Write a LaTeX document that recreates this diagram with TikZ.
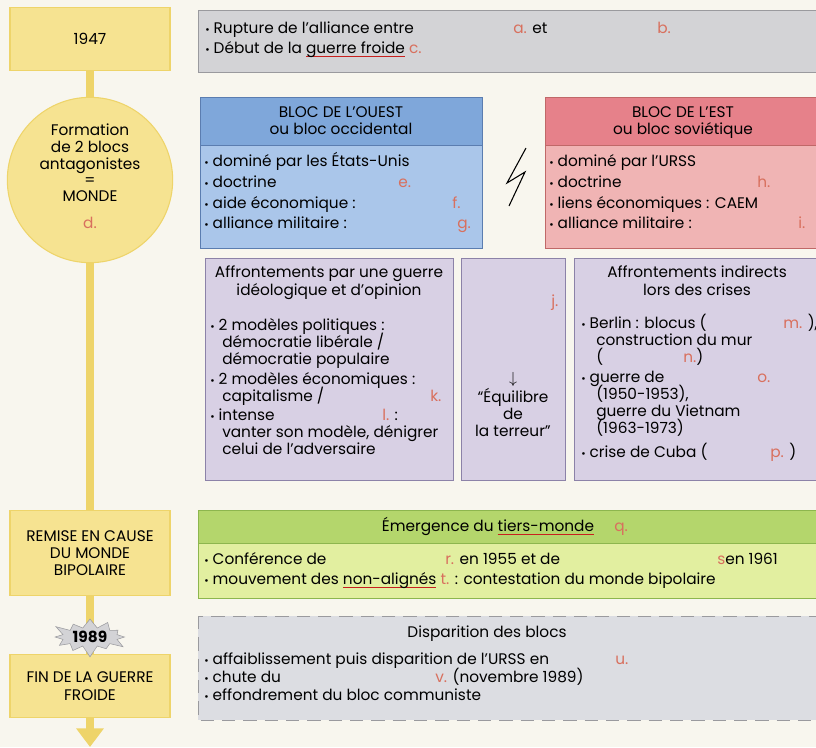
\documentclass[tikz,border=0pt]{standalone}
\usepackage{fontspec}
\setmainfont{Poppins}
\usepackage{xcolor}
\usepackage{tikz}
\usetikzlibrary{arrows, arrows.meta, shapes.symbols}

\definecolor{paper}{HTML}{F8F6EE}
\definecolor{yfill}{HTML}{F6E391}
\definecolor{yline}{HTML}{EED46A}
\definecolor{gfill}{HTML}{D3D3D6}
\definecolor{gedge}{HTML}{9A9A9E}
\definecolor{bhead}{HTML}{7FA7DA}
\definecolor{bbody}{HTML}{AAC6EA}
\definecolor{bedge}{HTML}{5B7DB0}
\definecolor{rhead}{HTML}{E6818A}
\definecolor{rbody}{HTML}{F0B4B4}
\definecolor{redge}{HTML}{C06868}
\definecolor{lfill}{HTML}{D8D0E4}
\definecolor{ledge}{HTML}{8C82A8}
\definecolor{ghead}{HTML}{B4D66C}
\definecolor{gbody}{HTML}{E2EFA0}
\definecolor{gedge2}{HTML}{8DB64E}
\definecolor{dfill}{HTML}{DCDDE2}
\definecolor{lblred}{HTML}{D8705E}
\definecolor{ulred}{HTML}{C8201E}

\newcommand{\hand}{\fontsize{11.5}{13}\selectfont}
\newcommand{\puce}{{\footnotesize •}\hspace{3pt}}
\newcommand{\redul}[1]{\setbox0=\hbox{#1}\rlap{\color{ulred}\rule[-3pt]{\wd0}{0.9pt}}\box0\relax}
\pgfdeclarelayer{background}
\pgfsetlayers{background,main}

\begin{document}
\begin{tikzpicture}[x=0.75pt, y=-0.75pt,
			>=stealth',
			txt/.style={anchor=base west, inner sep=0pt, font=\hand},
			ctr/.style={anchor=base, inner sep=0pt, font=\hand},
			lbl/.style={txt, text=lblred},
			ybox/.style={draw=yline, fill=yfill, line width=0.8pt, font=\hand, align=center, inner sep=0pt}]

			\useasboundingbox (0,0) rectangle (816,747);
			\clip (0,0) rectangle (816,747);

			% left column
			\node[ybox, minimum width=120pt, minimum height=47pt] (y1947) at (90,39) {1947};
			\node[ybox, circle, minimum size=124pt] (monde) at (90,180) {};
			\node[ctr] (f1) at (90,135) {Formation};
			\node[ctr] (f2) at (90,152) {de 2 blocs};
			\node[ctr] (f3) at (90,169) {antagonistes};
			\node[ctr] (f4) at (90,185) {=};
			\node[ctr] (f5) at (90,201) {MONDE};
			\node[ctr, text=lblred] (ld) at (90,228) {d.};
			\node[ybox, minimum width=120pt, minimum height=64pt] (remise) at (90,553) {REMISE EN CAUSE\\DU MONDE\\BIPOLAIRE};
			\node[ybox, minimum width=120pt, minimum height=47pt] (fin) at (90,686) {FIN DE LA GUERRE\\FROIDE};
			\node[starburst, starburst points=12, starburst point height=9pt, fill=gfill, draw=gedge,
				minimum width=60pt, minimum height=32pt, inner sep=0pt, font=\hand\bfseries] (y1989) at (90,637) {1989};
			\coordinate (bas) at (90,747);

			% 1947
			\filldraw[fill=gfill, draw=gedge] (198,10) rectangle (822,72);
			\node[txt] (rupture) at (205,33) {\puce Rupture de l'alliance entre};
			\node[lbl] (la) at (513,33) {a. \textcolor{black}{et}};
			\node[lbl] (lb) at (657,33) {b.};
			\node[txt] (debut) at (205,53) {\puce Début de la \redul{guerre froide} \textcolor{lblred}{c.}};

			% bloc de l'ouest
			\fill[bbody] (200,97) rectangle (482,248);
			\fill[bhead] (200,97) rectangle (482,145);
			\draw[bedge] (200,97) rectangle (482,248) (200,145) -- (482,145);
			\node[ctr] (ouest1) at (341,117) {BLOC DE L'OUEST};
			\node[ctr] (ouest2) at (341,134) {ou bloc occidental};
			\node[txt] (o1) at (204,166) {\puce dominé par les États-Unis};
			\node[txt] (o2) at (204,187) {\puce doctrine};
			\node[lbl] (le) at (398,187) {e.};
			\node[txt] (o3) at (204,208) {\puce aide économique :};
			\node[lbl] (lf) at (452,208) {f.};
			\node[txt] (o4) at (204,228) {\puce alliance militaire :};
			\node[lbl] (lg) at (457,228) {g.};

			% eclair
			\draw[line width=0.8pt] (526,148) -- (507,183) -- (525,172) -- (509,206);

			% bloc de l'est
			\fill[rbody] (545,97) rectangle (822,248);
			\fill[rhead] (545,97) rectangle (822,145);
			\draw[redge] (545,97) rectangle (822,248) (545,145) -- (822,145);
			\node[ctr] (est1) at (683,117) {BLOC DE L'EST};
			\node[ctr] (est2) at (683,134) {ou bloc soviétique};
			\node[txt] (e1) at (549,166) {\puce dominé par l'URSS};
			\node[txt] (e2) at (549,187) {\puce doctrine};
			\node[lbl] (lh) at (757,187) {h.};
			\node[txt] (e3) at (549,208) {\puce liens économiques : CAEM};
			\node[txt] (e4) at (549,228) {\puce alliance militaire :};
			\node[lbl] (li) at (798,228) {i.};

			% affrontements
			\filldraw[fill=lfill, draw=ledge] (205,258) rectangle (453,480);
			\filldraw[fill=lfill, draw=ledge] (461,258) rectangle (565,480);
			\filldraw[fill=lfill, draw=ledge] (574,258) rectangle (822,480);

			\node[ctr] (a1) at (329,277) {Affrontements par une guerre};
			\node[ctr] (a2) at (329,295) {idéologique et d'opinion};
			\node[txt] (a3) at (210,330) {\puce 2 modèles politiques :};
			\node[txt] (a4) at (222,347) {démocratie libérale /};
			\node[txt] (a5) at (222,364) {démocratie populaire};
			\node[txt] (a6) at (210,384) {\puce 2 modèles économiques :};
			\node[txt] (a7) at (222,401) {capitalisme /};
			\node[lbl] (lk) at (430,401) {k.};
			\node[txt] (a8) at (210,420) {\puce intense};
			\node[lbl] (ll) at (382,420) {l. \textcolor{black}{:}};
			\node[txt] (a9) at (222,437) {vanter son modèle, dénigrer};
			\node[txt] (a10) at (222,454) {celui de l'adversaire};

			\node[lbl] (lj) at (551,306) {j.};
			\node[ctr] (fleche) at (513,383) {$\downarrow$};
			\node[ctr] (eq1) at (513,402) {“Équilibre};
			\node[ctr] (eq2) at (513,419) {de};
			\node[ctr] (eq3) at (513,436) {la terreur”};

			\node[ctr] (c1) at (697,277) {Affrontements indirects};
			\node[ctr] (c2) at (697,295) {lors des crises};
			\node[txt] (c3) at (581,328) {\puce Berlin : blocus (};
			\node[lbl] (lm) at (783,328) {m. \textcolor{black}{),}};
			\node[txt] (c4) at (596,345) {construction du mur};
			\node[txt] (c5) at (596,362) {(};
			\node[lbl] (ln) at (683,362) {n.\textcolor{black}{)}};
			\node[txt] (c6) at (581,382) {\puce guerre de};
			\node[lbl] (lo) at (757,382) {o.};
			\node[txt] (c7) at (596,399) {(1950-1953),};
			\node[txt] (c8) at (596,416) {guerre du Vietnam};
			\node[txt] (c9) at (596,433) {(1963-1973)};
			\node[txt] (c10) at (581,457) {\puce crise de Cuba (};
			\node[lbl] (lp) at (770,457) {p. \textcolor{black}{)}};

			% tiers-monde
			\fill[gbody] (198,510) rectangle (822,598);
			\fill[ghead] (198,510) rectangle (822,543);
			\draw[gedge2] (198,510) rectangle (822,598) (198,543) -- (822,543);
			\node[ctr] (tm) at (488,531) {Émergence du \redul{tiers-monde}};
			\node[lbl] (lq) at (614,531) {q.};
			\node[txt] (t1) at (204,564) {\puce Conférence de};
			\node[lbl] (lr) at (445,564) {r. \textcolor{black}{en 1955 et de}};
			\node[lbl] (ls) at (717,564) {s\textcolor{black}{en 1961}};
			\node[txt] (t2) at (204,584) {\puce mouvement des \redul{non-alignés} \textcolor{lblred}{t.} : contestation du monde bipolaire};

			% disparition
			\filldraw[fill=dfill, draw=gedge, dashed, dash pattern=on 10pt off 6pt] (198,616) rectangle (822,720);
			\node[ctr] (d0) at (487,637) {Disparition des blocs};
			\node[txt] (d1) at (204,664) {\puce affaiblissement puis disparition de l'URSS en};
			\node[lbl] (lu) at (615,664) {u.};
			\node[txt] (d2) at (204,682) {\puce chute du};
			\node[lbl] (lv) at (435,682) {v. \textcolor{black}{(novembre 1989)}};
			\node[txt] (d3) at (204,700) {\puce effondrement du bloc communiste};

			% frise
			\begin{pgfonlayer}{background}
				\fill[paper] (0,0) rectangle (816,747);
				\draw[yline, line width=6pt, -{Triangle[width=20pt, length=14pt]}] (y1947.south) -- (bas);
			\end{pgfonlayer}
		\end{tikzpicture}
\end{document}
